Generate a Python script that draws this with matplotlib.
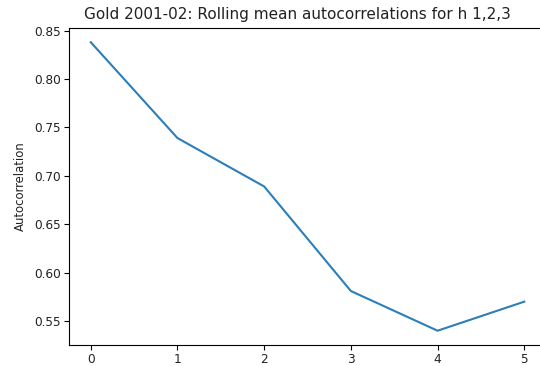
import numpy as np
import matplotlib
matplotlib.use('Agg')
import matplotlib.pyplot as plt

# rolling mean autocorrelation by window index
windows = [0, 1, 2, 3, 4, 5]
autocorr = [0.838, 0.739, 0.689, 0.581, 0.540, 0.570]

fig = plt.figure(figsize=(5.4, 3.66), dpi=100)
ax = fig.add_axes([0.128, 0.057, 0.883, 0.867])
ax.plot(windows, autocorr, color='#2a7fba', linewidth=1.5)

ax.set_title('Gold 2001-02: Rolling mean autocorrelations for h 1,2,3',
             fontsize=11.0, color='#222222', x=0.478)
ax.set_ylabel('Autocorrelation', fontsize=8.4, color='#222222', labelpad=5)
ax.tick_params(labelsize=8.7, labelcolor='#222222', pad=2.5)
ax.tick_params(axis='x', length=3.5)
ax.set_yticks([0.55, 0.60, 0.65, 0.70, 0.75, 0.80, 0.85])

fig.savefig('out.png', dpi=100)
